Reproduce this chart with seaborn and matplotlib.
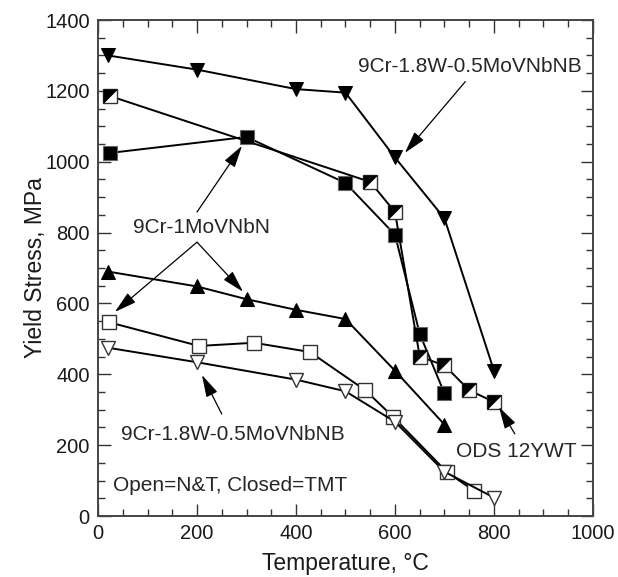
import numpy as np
import pandas as pd
import matplotlib
matplotlib.use("Agg")
import matplotlib.pyplot as plt
import seaborn as sns
from matplotlib.ticker import MultipleLocator

# Yield stress vs temperature
# 9Cr-1.8W-0.5MoVNbNB, TMT (closed down triangles)
w_tmt_T = [20, 200, 400, 500, 600, 700, 800]
w_tmt_ys = [1300, 1260, 1205, 1195, 1012, 840, 410]

# ODS 12YWT (half-filled squares)
ods_T = [25, 550, 600, 650, 700, 750, 800]
ods_ys = [1185, 943, 858, 450, 425, 355, 322]

# 9Cr-1MoVNbN, TMT (closed squares)
mo_tmt_sq_T = [25, 300, 500, 600, 650, 700]
mo_tmt_sq_ys = [1025, 1070, 940, 794, 514, 346]

# 9Cr-1MoVNbN, TMT (closed up triangles)
mo_tmt_tri_T = [20, 200, 300, 400, 500, 600, 700]
mo_tmt_tri_ys = [690, 648, 612, 582, 556, 410, 258]

# 9Cr-1MoVNbN, N&T (open squares)
mo_nt_T = [22, 204, 315, 428, 540, 596, 705, 760]
mo_nt_ys = [547, 480, 489, 463, 355, 280, 124, 71]

# 9Cr-1.8W-0.5MoVNbNB, N&T (open down triangles)
w_nt_T = [20, 200, 400, 500, 600, 700, 800]
w_nt_ys = [475, 434, 385, 352, 266, 125, 52]

sns.set_style("ticks")
plt.rcParams["font.family"] = ["Liberation Sans", "DejaVu Sans"]

fig = plt.figure(figsize=(6.18, 5.77), dpi=100)
ax = fig.add_axes([0.1586, 0.1057, 0.8009, 0.8596])

ms = 9.5
common = dict(color="black", linewidth=1.4, sort=False, estimator=None, ax=ax)

sns.lineplot(x=w_tmt_T, y=w_tmt_ys, marker="v", markersize=ms + 1,
             markerfacecolor="black", markeredgecolor="black", **common)
sns.lineplot(x=mo_tmt_sq_T, y=mo_tmt_sq_ys, marker="s", markersize=ms,
             markerfacecolor="black", markeredgecolor="#666666",
             markeredgewidth=0.8, **common)
sns.lineplot(x=ods_T, y=ods_ys, marker="s", markersize=ms,
             markerfacecolor="white", markeredgecolor="#333333",
             markeredgewidth=1.0, **common)
# upper-left half of each ODS square filled
half = [(-1, -1), (-1, 1), (1, 1), (-1, -1)]
ax.plot(ods_T, ods_ys, linestyle="none", marker=half, markersize=ms,
        markerfacecolor="black", markeredgecolor="black", markeredgewidth=0.5)
sns.lineplot(x=mo_tmt_tri_T, y=mo_tmt_tri_ys, marker="^", markersize=ms + 1,
             markerfacecolor="black", markeredgecolor="black", **common)
sns.lineplot(x=mo_nt_T, y=mo_nt_ys, marker="s", markersize=ms,
             markerfacecolor="white", markeredgecolor="#333333",
             markeredgewidth=1.0, **common)
sns.lineplot(x=w_nt_T, y=w_nt_ys, marker="v", markersize=ms + 1,
             markerfacecolor="white", markeredgecolor="#333333",
             markeredgewidth=1.0, **common)

ax.set_xlim(0, 1000)
ax.set_ylim(0, 1400)
ax.xaxis.set_major_locator(MultipleLocator(200))
ax.xaxis.set_minor_locator(MultipleLocator(50))
ax.yaxis.set_major_locator(MultipleLocator(200))
ax.yaxis.set_minor_locator(MultipleLocator(50))
ax.tick_params(which="both", direction="in", top=True, right=True,
               color="#333333", labelsize=14.5, pad=6, labelcolor="#1a1a1a")
ax.tick_params(which="major", length=9, width=1)
ax.tick_params(which="minor", length=5, width=1)
for s in ax.spines.values():
    s.set_color("#444444")
    s.set_linewidth(1.4)

ax.set_xlabel("Temperature, °C", fontsize=16.5, labelpad=6.5, color="#1a1a1a")
ax.set_ylabel("Yield Stress, MPa", fontsize=16.5, labelpad=-1.5, color="#1a1a1a")

arrow = dict(arrowstyle="-|>,head_length=0.8,head_width=0.22", color="black",
             lw=0.9, mutation_scale=17, shrinkA=0, shrinkB=0)
fs = 15

ax.text(752, 1268, "9Cr-1.8W-0.5MoVNbNB", fontsize=fs, ha="center", va="center")
ax.annotate("", xy=(620, 1025), xytext=(742, 1226), arrowprops=arrow)

ax.text(210, 813, "9Cr-1MoVNbN", fontsize=fs, ha="center", va="center")
ax.annotate("", xy=(34, 576), xytext=(200, 773), arrowprops=arrow)
ax.annotate("", xy=(293, 633), xytext=(200, 773), arrowprops=arrow)
ax.annotate("", xy=(291, 1045), xytext=(200, 858), arrowprops=arrow)

ax.text(273, 229, "9Cr-1.8W-0.5MoVNbNB", fontsize=fs, ha="center", va="center")
ax.annotate("", xy=(210, 398), xytext=(250, 288), arrowprops=arrow)

ax.text(846, 181, "ODS 12YWT", fontsize=fs, ha="center", va="center")
ax.annotate("", xy=(810, 308), xytext=(842, 232), arrowprops=arrow)

ax.text(267, 85, "Open=N&T, Closed=TMT", fontsize=fs, ha="center", va="center")

fig.savefig("out.png", dpi=100)
